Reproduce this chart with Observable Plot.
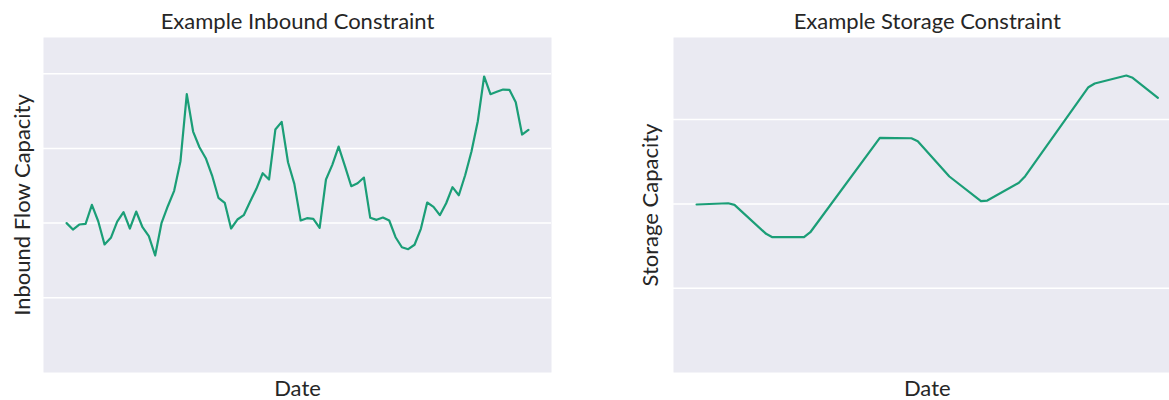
<!DOCTYPE html>
<html>
<head>
<meta charset="utf-8">
<script src="https://cdn.jsdelivr.net/npm/d3@7"></script>
<script src="https://cdn.jsdelivr.net/npm/@observablehq/plot@0.6"></script>
<style>
  html, body { margin: 0; padding: 0; background: #fff; overflow: hidden; width: 1169px; height: 400px; }
  #wrap { position: relative; width: 1169px; height: 400px; overflow: hidden; }
</style>
</head>
<body>
<div id="wrap"></div>
<script>
// ---- data ----
const startDate = "2021-01-03";
const weekCount = 74;
const inboundValues = [200,191.4,198.1,199.1,224.5,202.5,171.4,180.3,202.1,214.6,192.8,215.5,194.5,182.5,156.6,199.9,222.6,243.2,282.9,372.6,322.6,301.6,286.9,263.7,233.9,227.2,192.8,204.8,210.6,228.5,245.9,266.8,258.4,325.3,335.6,281.5,252.6,203.5,206.6,205.8,193.7,258.4,278.0,302.5,276.2,249.4,253.4,261.0,207.1,204.4,207.5,203.5,181.1,167.7,165.1,171.0,192.4,227.6,221.8,210.6,226.6,248.1,237.3,264.1,295.8,336.4,396.3,372.6,375.8,378.8,378.4,361.8,318.6,324.9];
// storage line vertices (week index, value)
const storageWeeks  = [0,5,6,11,12,17,18,29,34,35,40,45,46,51,52,62,63,68,69,73];
const storageValues = [199.3,200.8,198.9,164.5,160.5,160.5,166.4,278.4,277.9,274.4,232.5,203.2,204.0,225.0,232.9,338.4,342.8,352.3,349.6,325.9];
const inboundGrid = [100,200,300,400];
const storageGrid = [100,200,300,400];
const titles = ["Example Inbound Constraint", "Example Storage Constraint"];
const yLabels = ["Inbound Flow Capacity", "Storage Capacity"];
const xLabel = "Date";

// ---- build ----
const t0 = new Date(startDate + "T00:00:00Z");
const dates = d3.utcWeek.every(1).range(t0, d3.utcWeek.offset(t0, weekCount));
const storageDates = storageWeeks.map(i => dates[i]);
const ext = d3.extent(dates);
const pad = (ext[1] - ext[0]) * 0.05;
const xDomain = [new Date(+ext[0] - pad), new Date(+ext[1] + pad)];

const BG = "#eaeaf2", LINE = "#1b9e77", INK = "#262626";
const FONT = "Lato, 'Open Sans', sans-serif";

function panel({left, width, marginLeft, marginRight, yDomain, grid, x, y, title, ylab, ylabDx}) {
  const txt = {fontSize: 22, fill: INK, fontFamily: FONT, lineAnchor: "middle", textAnchor: "middle"};
  const p = Plot.plot({
    width, height: 400,
    marginLeft, marginRight, marginTop: 37, marginBottom: 28,
    style: {fontFamily: FONT, background: "transparent", color: INK, overflow: "visible"},
    x: {type: "utc", domain: xDomain, axis: null},
    y: {domain: yDomain, axis: null},
    marks: [
      Plot.frame({fill: BG, stroke: null}),
      Plot.ruleY(grid, {stroke: "white", strokeWidth: 1.5}),
      Plot.lineY(y, {x, stroke: LINE, strokeWidth: 2.2}),
      Plot.text([title], {...txt, frameAnchor: "top", dy: -15.5}),
      Plot.text([xLabel], {...txt, frameAnchor: "bottom", dy: 16.5}),
      Plot.text([ylab], {...txt, frameAnchor: "left", dx: ylabDx, rotate: -90})
    ]
  });
  p.style.left = left + "px";
  p.style.position = "absolute";
  p.style.top = "0px";
  document.getElementById("wrap").appendChild(p);
}

panel({left: 0, width: 590, marginLeft: 43, marginRight: 39, yDomain: [0, 448.5], grid: inboundGrid,
       x: dates, y: inboundValues, title: titles[0], ylab: yLabels[0], ylabDx: -20.7});
panel({left: 600, width: 620, marginLeft: 73, marginRight: 39.5, yDomain: [0, 397.4], grid: storageGrid,
       x: storageDates, y: storageValues, title: titles[1], ylab: yLabels[1], ylabDx: -22.4});
</script>
</body>
</html>
